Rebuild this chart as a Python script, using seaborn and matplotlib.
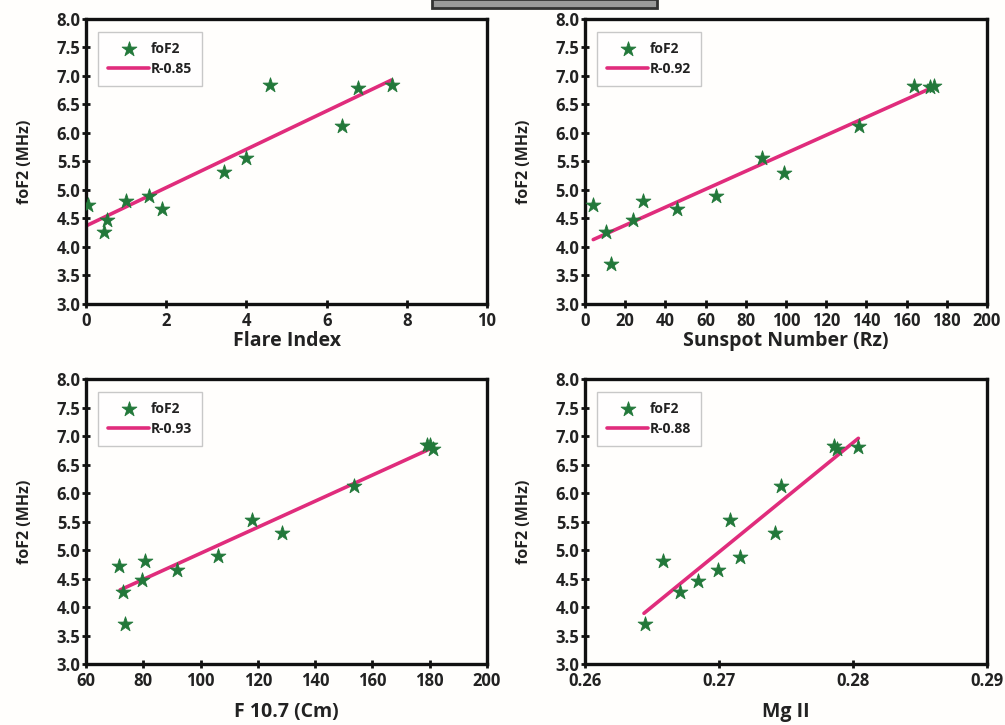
import numpy as np
import pandas as pd
import matplotlib
matplotlib.use('Agg')
import matplotlib.pyplot as plt
import seaborn as sns
from matplotlib.patches import Rectangle

# foF2 values, one set per panel
flare_index = [0.06, 0.46, 0.53, 0.99, 1.57, 1.89, 3.45, 3.98, 4.60, 6.39, 6.77, 7.62]
fof2_flare = [4.73, 4.27, 4.47, 4.81, 4.90, 4.67, 5.31, 5.56, 6.84, 6.13, 6.79, 6.84]

sunspot = [4.1, 10.5, 12.9, 24.1, 28.7, 46.0, 65.2, 88.0, 99.1, 136.1, 163.5, 171.5, 173.4]
fof2_sunspot = [4.73, 4.27, 3.71, 4.47, 4.81, 4.67, 4.90, 5.56, 5.30, 6.13, 6.83, 6.80, 6.83]

f107 = [71.5, 72.8, 73.7, 79.7, 80.6, 91.6, 106.2, 117.8, 128.3, 153.5, 179.2, 180.0, 181.2]
fof2_f107 = [4.72, 4.26, 3.71, 4.47, 4.80, 4.65, 4.89, 5.53, 5.30, 6.13, 6.84, 6.85, 6.77]

mg2 = [0.2645, 0.2658, 0.2671, 0.2684, 0.2699, 0.2708, 0.2716, 0.2742, 0.2746, 0.2786, 0.2788, 0.2804]
fof2_mg2 = [3.71, 4.80, 4.26, 4.46, 4.65, 5.53, 4.88, 5.29, 6.13, 6.82, 6.78, 6.81]

# fitted line end points
fit_flare_x, fit_flare_y = [0.0, 7.62], [4.37, 6.93]
fit_sunspot_x, fit_sunspot_y = [4.1, 173.0], [4.13, 6.80]
fit_f107_x, fit_f107_y = [71.9, 181.2], [4.30, 6.80]
fit_mg2_x, fit_mg2_y = [0.2644, 0.2804], [3.89, 6.96]

r_labels = ['R-0.85', 'R-0.92', 'R-0.93', 'R-0.88']
x_labels = ['Flare Index', 'Sunspot Number (Rz)', 'F 10.7 (Cm)', 'Mg II']
x_limits = [(0, 10), (0, 200), (60, 200), (0.26, 0.29)]
x_ticks = [np.arange(0, 11, 2), np.arange(0, 201, 20), np.arange(60, 201, 20),
           [0.26, 0.27, 0.28, 0.29]]
x_ticklabels = [None, None, None, ['0.26', '0.27', '0.28', '0.29']]

sns.set_style('white')
plt.rcParams['font.family'] = ['Open Sans', 'DejaVu Sans']
plt.rcParams['font.weight'] = 'bold'

star_green = '#22783a'
line_pink = '#e02c7c'

fig = plt.figure(figsize=(10.05, 7.25), dpi=100, facecolor='#fffefc')

positions = [
    [0.0856, 0.5807, 0.399, 0.3931],
    [0.5821, 0.5807, 0.400, 0.3931],
    [0.0856, 0.0841, 0.399, 0.3931],
    [0.5821, 0.0841, 0.400, 0.3931],
]
panels = [
    (flare_index, fof2_flare, fit_flare_x, fit_flare_y),
    (sunspot, fof2_sunspot, fit_sunspot_x, fit_sunspot_y),
    (f107, fof2_f107, fit_f107_x, fit_f107_y),
    (mg2, fof2_mg2, fit_mg2_x, fit_mg2_y),
]
label_pads = [1, 1, 9, 9]

for i, (xs, ys, fx, fy) in enumerate(panels):
    ax = fig.add_axes(positions[i])
    ax.set_facecolor('#fffefc')
    df = pd.DataFrame({'x': xs, 'foF2': ys})
    fit = pd.DataFrame({'x': fx, 'y': fy})
    sns.lineplot(data=fit, x='x', y='y', ax=ax, color=line_pink, linewidth=2.6,
                 label=r_labels[i], zorder=2)
    sns.scatterplot(data=df, x='x', y='foF2', ax=ax, marker='*', s=125,
                    color=star_green, edgecolor=star_green, linewidth=0.6,
                    label='foF2', zorder=3)

    ax.set_xlim(*x_limits[i])
    ax.set_ylim(3.0, 8.0)
    ax.set_xticks(x_ticks[i])
    if x_ticklabels[i] is not None:
        ax.set_xticklabels(x_ticklabels[i])
    ax.set_yticks(np.arange(3.0, 8.01, 0.5))
    ax.set_yticklabels([f'{v:.1f}' for v in np.arange(3.0, 8.01, 0.5)])

    for sp in ax.spines.values():
        sp.set_linewidth(2.4)
        sp.set_color('#111111')
    ax.tick_params(axis='both', which='major', direction='inout', length=6, width=2,
                   labelsize=12, pad=1, colors='#111111')
    ax.tick_params(axis='x', pad=2.5)
    ax.tick_params(bottom=True, left=True, top=False, right=False)
    for t in ax.get_xticklabels() + ax.get_yticklabels():
        t.set_fontweight('bold')
        t.set_color('#222222')

    ax.set_xlabel(x_labels[i], fontsize=14, fontweight='bold', color='#222222',
                  labelpad=label_pads[i])
    ax.set_ylabel('foF2 (MHz)', fontsize=11.5, fontweight='bold', color='#222222',
                  labelpad=17)

    handles, labels = ax.get_legend_handles_labels()
    order = [labels.index('foF2'), labels.index(r_labels[i])]
    leg = ax.legend([handles[k] for k in order], [labels[k] for k in order],
                    loc='upper left', bbox_to_anchor=(0.03, 0.955), borderaxespad=0,
                    frameon=True, fancybox=False, handlelength=3.0,
                    handletextpad=0.1, borderpad=0.7, labelspacing=0.45,
                    prop={'weight': 'bold', 'size': 10})
    leg.get_frame().set_edgecolor('#bbbbbb')
    leg.get_frame().set_linewidth(1.0)
    for t in leg.get_texts():
        t.set_color('#222222')

# remnant of a dark box at the top edge of the original figure
fig.patches.append(Rectangle((432 / 1005, 1 - 8 / 725), 225 / 1005, 9 / 725,
                             transform=fig.transFigure, facecolor='#9a9a9a',
                             edgecolor='#333333', linewidth=2, zorder=0))

fig.savefig('out.png', dpi=100, facecolor=fig.get_facecolor())
